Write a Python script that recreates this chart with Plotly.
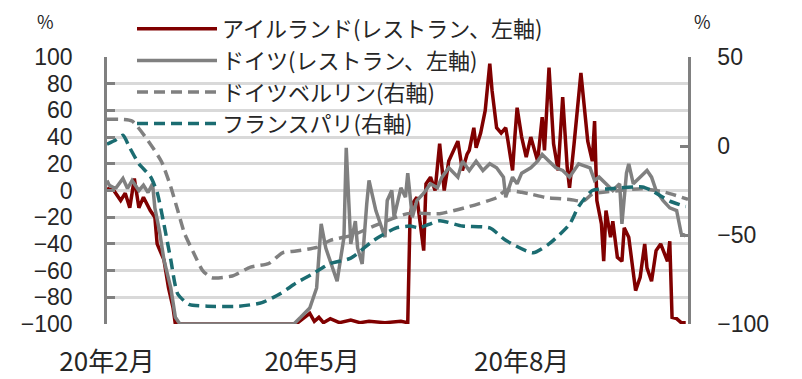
import pandas as pd
import plotly.graph_objects as go

START = pd.Timestamp("2020-02-18")
END_DAY = 255

# ---- data (days since 2020-02-18, values in %) ----
ie_days = [0,3,6,8,10,12,14,16,19,21,22,24,25,27,29,30,83,86,89,91,93,95,98,102,107,111,115,122,129,132,
           133,134,136,139,140,142,144,146,148,150,154,156,158,159,161,162,164,166,168,169,171,173,175,176,178,179,180,182,184,186,
           189,191,192,194,196,198,200,202,203,205,207,208,211,213,214,215,217,218,219,221,222,224,226,227,229,230,232,234,236,237,
           239,241,243,246,247,248,250,252,254]
ie_vals = [1.5,0,-7.5,-2,-13,9,-13,-5,-15,-20,-40,-48,-52,-73,-88,-100,-100,-96,-92,-98,-95,-99,-96,-99,-97,-99,-98,-99,-98,-99,
           -20,-10,-5,-45,5,10,0,35,0,22,37,15,27,30,47,32,43,60,95,75,47,43,47,37,15,40,62,40,25,40,
           22,55,30,92,35,15,70,17,2,35,70,88,37,22,52,-7.5,-25,-53,-15,-35,-23,-50,-53,-28,-35,-50,-75,-65,-40,-58,
           -68,-45,-40,-53,-38,-95,-96,-99,-99]

de_days = [0,1,3,4,7,9,11,14,16,18,20,21,23,25,28,30,32,82,85,89,92,93,94,96,98,101,104,105,107,109,
           110,112,114,115,118,120,122,123,125,126,129,131,132,134,136,139,142,145,147,150,154,156,159,162,165,168,171,174,175,178,
           180,182,186,189,191,194,197,200,203,207,212,214,216,219,222,225,226,228,229,231,234,237,239,241,244,247,250,252,254]
de_vals = [7.5,4,2,2,9,1.5,7.5,0,4,-1.5,5,-13,-30,-52,-73,-95,-100,-100,-95,-88,-73,-48,-25,-43,-53,-68,-35,32,-40,-23,
           -43,-55,-10,7.5,-15,-25,-35,-7.5,0,-20,2,-5,13,-20,-7.5,-2,5,2,10,17,10,22,15,22,15,20,17,10,-5,10,
           5,13,17,22,27,22,17,15,10,20,17,7.5,10,5,0,5,-25,13,20,5,10,15,10,0,-7.5,-13,-15,-32,-34]

ber_days = [0,6,11,18,24,28,31,34,38,42,46,55,63,71,77,83,92,98,108,117,132,146,159,171,175,182,186,193,203,209,213,225,235,245,255]
ber_vals = [15,15,14,3,-9,-23,-36,-49,-60,-70,-74,-73,-68,-66,-60,-59,-57,-53,-50,-45,-38,-38,-34,-29,-25,-26,-27,-29,-30,-31,-27,-25,-24,-26,-30]

par_days = [0,4,7,10,14,19,22,25,28,31,36,44,58,68,76,83,90,98,107,117,127,133,137,146,156,168,175,187,194,203,207,213,221,235,239,247,254]
par_vals = [1,3.5,6,-1,-10,-17,-26,-44,-64,-83,-89,-90,-90,-88,-83,-77,-72,-66,-63,-53,-46,-45,-46,-42,-45,-46,-53,-60,-55,-44,-34,-25,-24,-23,-25,-31,-34]

tick_days = [0, 90, 182]
tick_text = ["20年2月", "20年5月", "20年8月"]
left_ticks = [100, 80, 60, 40, 20, 0, -20, -40, -60, -80, -100]
right_ticks = [50, 0, -50, -100]

names = ["アイルランド(レストラン、左軸)", "ドイツ(レストラン、左軸)", "ドイツベルリン(右軸)", "フランスパリ(右軸)"]


def to_dates(days):
    return [START + pd.Timedelta(days=d) for d in days]


def fmt(v):
    return str(v).replace("-", "\u2212")


FONT = "Noto Sans CJK JP"
NUMFONT = "Liberation Sans"
TXT = "#262626"
RED = "#800000"
GRAY = "#808080"
TEAL = "#1b6c71"

# the page body adds an 8px offset, so the figure is laid out 8px smaller
OFF = 8
W, H = 802 - OFF, 379 - OFF
ML, MT = 107 - OFF, 57 - OFF
pw, ph = 581, 267
MR, MB = W - ML - pw, H - MT - ph


def px_x(x):  # page pixel -> paper x
    return (x - OFF - ML) / pw


def px_y(y):  # page pixel -> paper y
    return (H - MB - (y - OFF)) / ph


fig = go.Figure()
fig.add_trace(go.Scatter(x=to_dates(ie_days), y=ie_vals, name=names[0], mode="lines",
                         line=dict(color=RED, width=3.5), legendrank=1))
fig.add_trace(go.Scatter(x=to_dates(de_days), y=de_vals, name=names[1], mode="lines",
                         line=dict(color=GRAY, width=3.5), legendrank=2))
fig.add_trace(go.Scatter(x=to_dates(ber_days), y=ber_vals, name=names[2], mode="lines", yaxis="y2",
                         line=dict(color=GRAY, width=3.5, dash="11px,6px", shape="spline", smoothing=0.6),
                         legendrank=3))
fig.add_trace(go.Scatter(x=to_dates(par_days), y=par_vals, name=names[3], mode="lines", yaxis="y2",
                         line=dict(color=TEAL, width=3.5, dash="11px,6px", shape="spline", smoothing=0.6),
                         legendrank=4))

tickfont = dict(size=23, family=NUMFONT, color=TXT)

fig.update_layout(
    width=W, height=H,
    margin=dict(l=ML, r=MR, t=MT, b=MB, autoexpand=False),
    paper_bgcolor="white", plot_bgcolor="white",
    font=dict(family=FONT, color=TXT, size=22),
    showlegend=True,
    legend=dict(x=px_x(132), y=px_y(8), xref="paper", yref="paper",
                xanchor="left", yanchor="top",
                bgcolor="rgba(0,0,0,0)", font=dict(size=22, family=FONT, color=TXT),
                itemwidth=80, tracegroupgap=0),
    xaxis=dict(type="date", range=[START, START + pd.Timedelta(days=END_DAY)],
               tickvals=to_dates(tick_days), ticktext=tick_text, automargin=False,
               showgrid=False, showline=False, zeroline=False, ticks="",
               tickfont=dict(size=26, family=FONT, color=TXT), ticklabelstandoff=20),
    yaxis=dict(range=[-100, 100], tickvals=left_ticks, ticktext=[fmt(v) for v in left_ticks],
               automargin=False,
               showgrid=True, gridcolor="#d9d9d9", gridwidth=2.5, zeroline=False,
               showline=True, linecolor=GRAY, linewidth=2.5,
               ticks="inside", ticklen=8, tickwidth=2.5, tickcolor=GRAY,
               tickfont=tickfont, ticklabelstandoff=27),
    yaxis2=dict(range=[-100, 50], tickvals=right_ticks, ticktext=[fmt(v) for v in right_ticks],
                automargin=False,
                overlaying="y", side="right", showgrid=False, zeroline=False,
                showline=True, linecolor=GRAY, linewidth=2.5,
                ticks="inside", ticklen=8, tickwidth=2.5, tickcolor=GRAY,
                tickfont=tickfont, ticklabelstandoff=22),
    annotations=[
        dict(text="%", x=px_x(45), y=px_y(21), xref="paper", yref="paper",
             xanchor="center", yanchor="middle", borderpad=0,
             showarrow=False, font=dict(size=18, family=FONT, color=TXT)),
        dict(text="%", x=px_x(702), y=px_y(21), xref="paper", yref="paper",
             xanchor="center", yanchor="middle", borderpad=0,
             showarrow=False, font=dict(size=18, family=FONT, color=TXT)),
    ],
)

fig.write_html("out.html")
